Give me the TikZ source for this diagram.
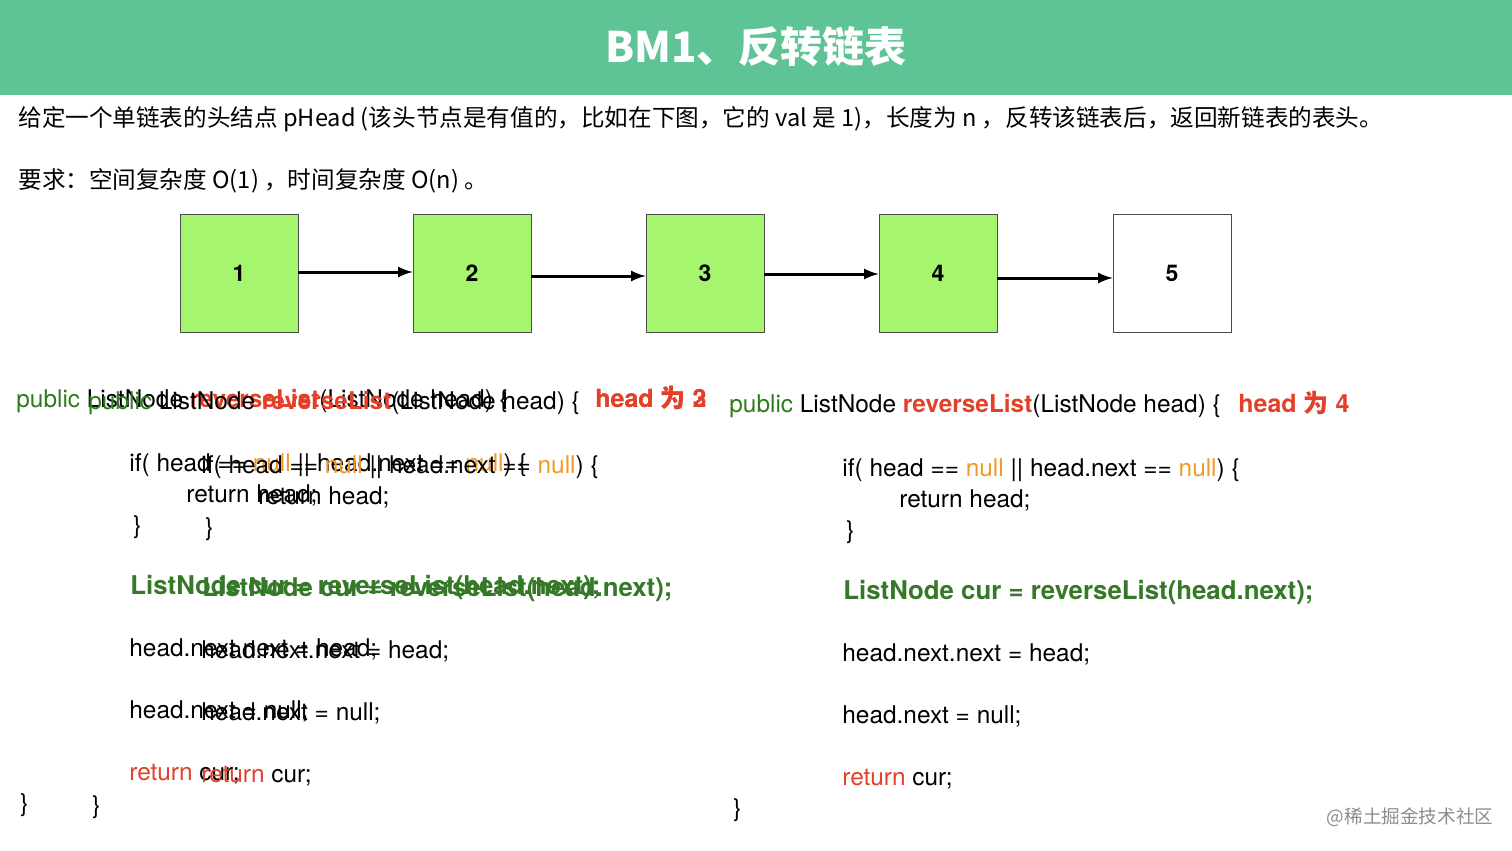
\documentclass[tikz,border=0pt]{standalone}
\usepackage{fontspec}
\setmainfont{TeX Gyre Heros}
\newfontfamily\cjk{Noto Sans CJK SC}
\newfontfamily\codefont{TeX Gyre Heros}
\usetikzlibrary{arrows,positioning}

\definecolor{headbg}{RGB}{94,196,150}
\definecolor{boxgreen}{RGB}{166,245,110}
\definecolor{kwgreen}{RGB}{47,122,30}
\definecolor{fnred}{RGB}{226,64,40}
\definecolor{nullorange}{RGB}{240,152,40}
\definecolor{curgreen}{RGB}{52,120,40}

% one copy of the code, #1 = name, (#2,#3) = baseline of the first line
\newcommand{\revcode}[3]{%
  \coordinate (#1) at (#2,#3);
  \node[code] (#1-sig) at (#1) {{\color{kwgreen}public} ListNode {\color{fnred}\bfseries reverseList}(ListNode head) \{};
  \node[code] (#1-if) at ([shift={(113,64)}]#1) {if( head == {\color{nullorange}null} || head.next == {\color{nullorange}null}) \{};
  \node[code] (#1-ret) at ([shift={(170,95)}]#1) {return head;};
  \node[code] (#1-endif) at ([shift={(117,126)}]#1) {\}};
  \node[code,font=\codefont\bfseries\fontsize{12.9}{15}\selectfont,text=curgreen] (#1-cur) at ([shift={(114,187)}]#1) {ListNode cur = reverseList(head.next);};
  \node[code] (#1-nn) at ([shift={(113,249)}]#1) {head.next.next = head;};
  \node[code] (#1-n) at ([shift={(113,311)}]#1) {head.next = null;};
  \node[code] (#1-rc) at ([shift={(113,373)}]#1) {{\color{fnred}return} cur;};
  \node[code] (#1-end) at ([shift={(4,404)}]#1) {\}};
}

\begin{document}
\begin{tikzpicture}[x=0.5pt,y=-0.5pt,
    listnode/.style={draw=black!70,fill=boxgreen,minimum width=59pt,minimum height=59pt,inner sep=0pt,font=\codefont\bfseries\fontsize{11.5}{13}\selectfont},
    lastnode/.style={listnode,fill=white},
    link/.style={-latex,line width=1.5pt},
    code/.style={anchor=base west,inner sep=0pt,font=\codefont\fontsize{12.2}{14}\selectfont},
    note/.style={anchor=base west,inner sep=0pt,text=fnred,font=\codefont\bfseries\fontsize{12.5}{14}\selectfont},
    desc/.style={anchor=west,inner sep=0pt,font=\cjk\fontsize{11.8}{13}\selectfont}]
  \useasboundingbox (0,0) rectangle (1512,851);

  % title band
  \fill[headbg] (0,0) rectangle (1512,95);
  \node[text=white,font=\cjk\bfseries\fontsize{21}{24}\selectfont] (title) at (756,47) {BM1、反转链表};

  \node[desc] (task) at (18,119) {给定一个单链表的头结点 pHead (该头节点是有值的，比如在下图，它的 val 是 1)，长度为 n ，反转该链表后，返回新链表的表头。};
  \node[desc] (req) at (18,181) {要求：空间复杂度 O(1) ，时间复杂度 O(n) 。};

  % the list
  \foreach \i/\x in {1/239,2/472,3/705,4/938}
    \node[listnode] (n\i) at (\x,273) {\i};
  \node[lastnode] (n5) at (1172,273) {5};
  \draw[link] ([yshift=0.5pt]n1.east) -- ([yshift=0.5pt]n2.west);
  \draw[link] ([yshift=-1.5pt]n2.east) -- ([yshift=-1.5pt]n3.west);
  \draw[link] ([yshift=-0.5pt]n3.east) -- ([yshift=-0.5pt]n4.west);
  \draw[link] ([yshift=-2.5pt]n4.east) -- ([yshift=-2.5pt]n5.west);

  % code, two frames over each other on the left
  \revcode{fa}{16}{407}
  \revcode{fb}{88}{409}
  \node[note] (note3) at (595,407) {head {\cjk 为} 3};
  \node[note] (note2) at (595,407) {head {\cjk 为} 2};

  \revcode{fc}{729}{412}
  \node[note] (note4) at (1238,412) {head {\cjk 为} 4};

  \node[text=black!45,font=\cjk\fontsize{9.3}{11}\selectfont] (mark) at (1410,817) {@稀土掘金技术社区};
\end{tikzpicture}
\end{document}
